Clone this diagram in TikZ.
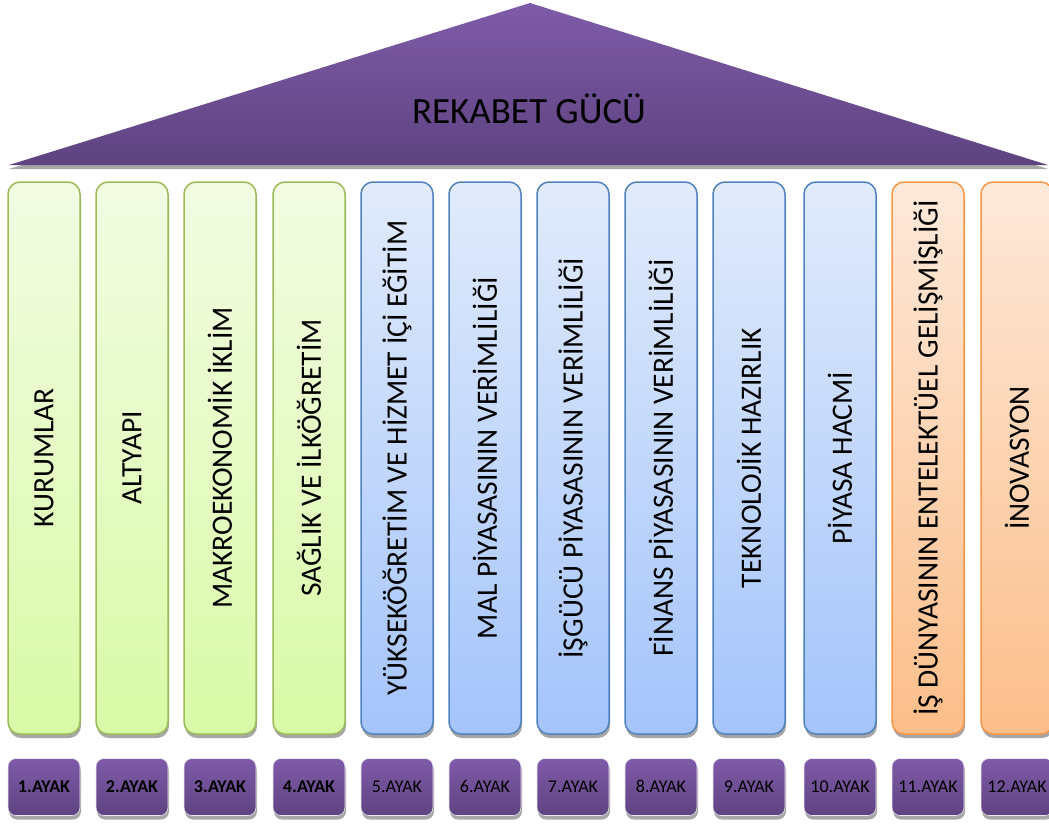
\documentclass[tikz,border=0pt]{standalone}
\usepackage{fontspec}
\setmainfont{Carlito}
\usetikzlibrary{shadows}
\definecolor{roofTop}{HTML}{7F5BA9}
\definecolor{roofBot}{HTML}{5E4380}
\definecolor{grStroke}{HTML}{9BBB59}
\definecolor{grTop}{HTML}{F3FCE3}
\definecolor{grBot}{HTML}{D8FAA6}
\definecolor{blStroke}{HTML}{4F81BD}
\definecolor{blTop}{HTML}{E1EBFB}
\definecolor{blBot}{HTML}{A4C4FB}
\definecolor{orStroke}{HTML}{F79646}
\definecolor{orTop}{HTML}{FDE9DA}
\definecolor{orBot}{HTML}{FCBE8A}
\tikzset{
  shadowed/.style={drop shadow={shadow xshift=1pt,shadow yshift=-4pt,fill=black,opacity=0.35}},
  pillar/.style={shadowed,rounded corners=12pt,minimum width=72pt,minimum height=552pt,line width=1.5pt,inner sep=0pt},
  gpillar/.style={pillar,draw=grStroke,top color=grTop,bottom color=grBot},
  bpillar/.style={pillar,draw=blStroke,top color=blTop,bottom color=blBot},
  opillar/.style={pillar,draw=orStroke,top color=orTop,bottom color=orBot},
  ptext/.style={rotate=90,font=\fontsize{29.5}{32}\selectfont,text=black,inner sep=0pt},
  foot/.style={shadowed,rounded corners=8pt,minimum width=72pt,minimum height=57pt,draw=white!85!roofTop,line width=0.6pt,top color=roofTop,bottom color=roofBot,font=\fontsize{18}{20}\selectfont,text=black,inner sep=0pt,text height=11.5pt,text depth=0pt},
  bfoot/.style={foot,font=\fontsize{18}{20}\selectfont\bfseries},
}
\begin{document}
\begin{tikzpicture}[x=1pt,y=-1pt]
\useasboundingbox (0,0) rectangle (1049,828);
\clip (0,0) rectangle (1049,828);
% roof
\fill[black,opacity=0.35] (9,169) -- (530,7) -- (1048,169) -- cycle;
\path[top color=roofTop,bottom color=roofBot] (9,165) -- (530,3) -- (1048,165) -- cycle;
\node[font=\fontsize{37}{40}\selectfont,text=black] (roof) at (529,109) {REKABET GÜCÜ};
% pillars
\node[gpillar] (p1) at (44,458) {};
\node[gpillar] (p2) at (132,458) {};
\node[gpillar] (p3) at (220,458) {};
\node[gpillar] (p4) at (309,458) {};
\node[bpillar] (p5) at (397,458) {};
\node[bpillar] (p6) at (485,458) {};
\node[bpillar] (p7) at (573,458) {};
\node[bpillar] (p8) at (661,458) {};
\node[bpillar] (p9) at (749,458) {};
\node[bpillar] (p10) at (840,458) {};
\node[opillar] (p11) at (928,458) {};
\node[opillar] (p12) at (1017,458) {};
\node[ptext] (t1) at (p1.center) {KURUMLAR};
\node[ptext] (t2) at (p2.center) {ALTYAPI};
\node[ptext] (t3) at (p3.center) {MAKROEKONOMİK İKLİM};
\node[ptext] (t4) at (p4.center) {SAĞLIK VE İLKÖĞRETİM};
\node[ptext] (t5) at (p5.center) {YÜKSEKÖĞRETİM VE HİZMET İÇİ EĞİTİM};
\node[ptext] (t6) at (p6.center) {MAL PİYASASININ VERİMLİLİĞİ};
\node[ptext] (t7) at (p7.center) {İŞGÜCÜ PİYASASININ VERİMLİLİĞİ};
\node[ptext] (t8) at (p8.center) {FİNANS PİYASASININ VERİMLİLİĞİ};
\node[ptext] (t9) at (p9.center) {TEKNOLOJİK HAZIRLIK};
\node[ptext] (t10) at (p10.center) {PİYASA HACMİ};
\node[ptext] (t11) at (p11.center) {İŞ DÜNYASININ ENTELEKTÜEL GELİŞMİŞLİĞİ};
\node[ptext] (t12) at (p12.center) {İNOVASYON};
% feet
\node[bfoot] (f1) at (44,787) {1.AYAK};
\node[bfoot] (f2) at (132,787) {2.AYAK};
\node[bfoot] (f3) at (220,787) {3.AYAK};
\node[bfoot] (f4) at (309,787) {4.AYAK};
\node[foot] (f5) at (397,787) {5.AYAK};
\node[foot] (f6) at (485,787) {6.AYAK};
\node[foot] (f7) at (573,787) {7.AYAK};
\node[foot] (f8) at (661,787) {8.AYAK};
\node[foot] (f9) at (749,787) {9.AYAK};
\node[foot] (f10) at (840,787) {10.AYAK};
\node[foot] (f11) at (928,787) {11.AYAK};
\node[foot] (f12) at (1017,787) {12.AYAK};
\end{tikzpicture}
\end{document}
